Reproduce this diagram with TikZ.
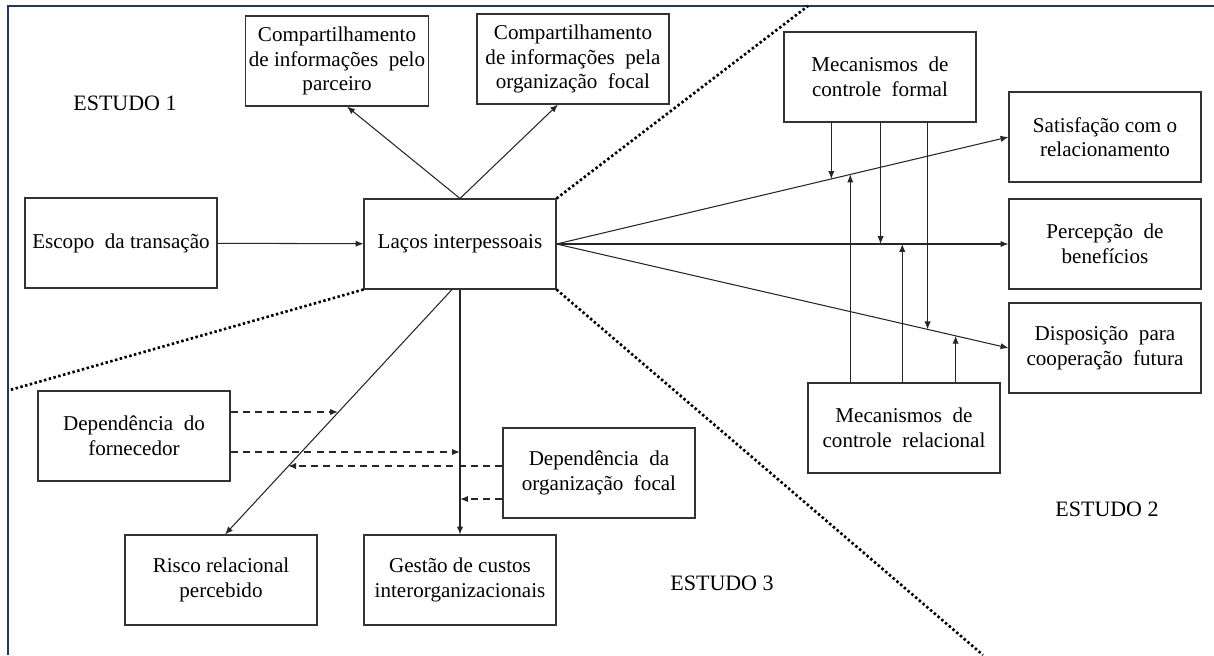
\documentclass[tikz,border=0pt]{standalone}
\usepackage{fontspec}
\setmainfont{Liberation Serif}
\usepackage{tikz}
\usetikzlibrary{arrows.meta,calc}

\definecolor{framecol}{RGB}{31,56,100}

\begin{document}
\begin{tikzpicture}[
        box/.style={rectangle,draw=black!80,line width=0.6pt,minimum width=3.84cm,minimum height=1.8cm,
            align=center,inner sep=2pt,font=\fontsize{12}{14}\selectfont},
        label/.style={font=\fontsize{12.5}{14}\selectfont},
        arr/.style={-{Latex[length=4.5pt,width=3.6pt]},line width=0.6pt,black!85},
        dasharr/.style={-{Latex[length=4.5pt,width=3.6pt]},line width=0.8pt,dash pattern=on 4pt off 3pt,black!85},
        border/.style={line width=1.5pt,dash pattern=on 1.4pt off 1.4pt,black}]

    \useasboundingbox (0,0) rectangle (24.28,-13.1);
    \draw[framecol,line width=1.1pt] (24.28,-0.12) -- (0.16,-0.12) -- (0.16,-13.1);

    % Estudo 1
    \node[label] (e1) at (2.5,-2.06) {ESTUDO 1};
    \node[box,minimum width=3.64cm] (parc) at (6.74,-1.22) {Compartilhamento\\de informações\enspace pelo\\parceiro};
    \node[box] (focal) at (11.46,-1.18) {Compartilhamento\\de informações\enspace pela\\organização\enspace focal};
    \node[box] (escopo) at (2.42,-4.86) {Escopo\enspace da transação};
    \node[box] (lacos) at (9.2,-4.88) {Laços interpessoais};

    % Estudo 2
    \node[label] (e2) at (22.14,-10.18) {ESTUDO 2};
    \node[box] (formal) at (17.6,-1.54) {Mecanismos\enspace de\\controle\enspace formal};
    \node[box] (sat) at (22.1,-2.74) {Satisfação com o\\relacionamento};
    \node[box] (perc) at (22.1,-4.88) {Percepção\enspace de\\benefícios};
    \node[box] (disp) at (22.1,-6.96) {Disposição\enspace para\\cooperação\enspace futura};
    \node[box] (relac) at (18.08,-8.56) {Mecanismos\enspace de\\controle\enspace relacional};

    % Estudo 3
    \node[label] (e3) at (14.44,-11.66) {ESTUDO 3};
    \node[box] (depforn) at (2.68,-8.72) {Dependência\enspace do\\fornecedor};
    \node[box] (depfocal) at (11.98,-9.46) {Dependência\enspace da\\organização\enspace focal};
    \node[box] (risco) at (4.42,-11.6) {Risco relacional\\percebido};
    \node[box] (gestao) at (9.2,-11.6) {Gestão de custos\\interorganizacionais};

    % Divisions
    \coordinate (cut1) at (16.16,-0.12);
    \coordinate (cut2) at (19.66,-13.1);
    \coordinate (cut3) at (0.2,-7.8);
    \draw[border] (lacos.north east) -- (cut1);
    \draw[border] (lacos.south east) -- (cut2);
    \draw[border] (lacos.south west) -- (cut3);

    % Edges
    \draw[arr] (escopo) -- (lacos);
    \draw[arr] (lacos.north) -- ([xshift=0.2cm]parc.south);
    \draw[arr] (lacos.north) -- ([xshift=-0.3cm]focal.south);
    \draw[arr] (lacos.east) -- (sat.west);
    \draw[arr] (lacos.east) -- (perc.west);
    \draw[arr] (lacos.east) -- (disp.west);
    \draw[arr] (lacos.south) -- (gestao.north);
    \coordinate (dstart) at ([xshift=-0.16cm]lacos.south);
    \coordinate (dend) at ([xshift=0.08cm]risco.north);
    \draw[arr] (dstart) -- (dend);

    % Moderators
    \coordinate (s1) at ($(lacos.east)!0.608!(sat.west)$);
    \coordinate (s2) at ($(lacos.east)!0.650!(sat.west)$);
    \coordinate (p1) at ($(lacos.east)!0.717!(perc.west)$);
    \coordinate (p2) at ($(lacos.east)!0.765!(perc.west)$);
    \coordinate (q1) at ($(lacos.east)!0.821!(disp.west)$);
    \coordinate (q2) at ($(lacos.east)!0.883!(disp.west)$);
    \draw[arr] (formal.south -| s1) -- (s1);
    \draw[arr] (formal.south -| p1) -- (p1);
    \draw[arr] (formal.south -| q1) -- (q1);
    \draw[arr] (relac.north -| s2) -- (s2);
    \draw[arr] (relac.north -| p2) -- (p2);
    \draw[arr] (relac.north -| q2) -- (q2);

    % Dependencies
    \coordinate (f1) at ([yshift=0.48cm]depforn.east);
    \coordinate (f2) at ([yshift=-0.32cm]depforn.east);
    \coordinate (g1) at ([yshift=0.14cm]depfocal.west);
    \coordinate (g2) at ([yshift=-0.52cm]depfocal.west);
    \coordinate (d1) at ($(dstart)!0.502!(dend)$);
    \coordinate (d2) at ($(dstart)!0.722!(dend)$);
    \draw[dasharr] (f1) -- (f1 -| d1);
    \draw[dasharr] (f2) -- (f2 -| lacos.south);
    \draw[dasharr] (g1) -- (g1 -| d2);
    \draw[dasharr] (g2) -- (g2 -| lacos.south);
\end{tikzpicture}
\end{document}
